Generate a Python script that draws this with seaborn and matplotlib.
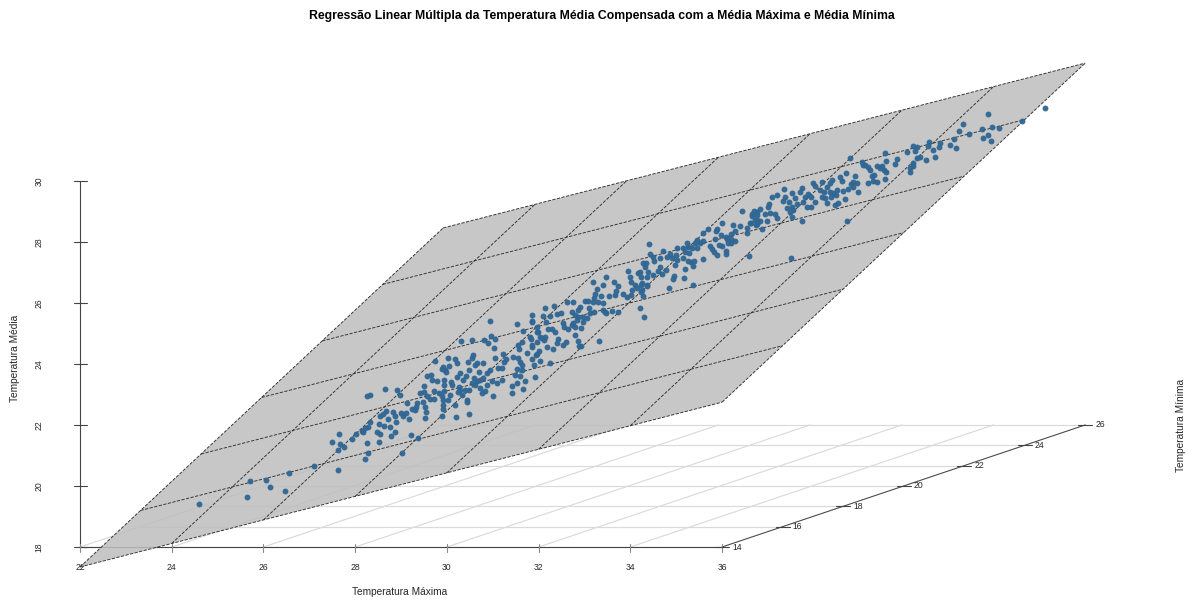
import matplotlib
matplotlib.use("Agg")
import matplotlib.pyplot as plt
import numpy as np
import pandas as pd
import seaborn as sns

titulo = "Regressão Linear Múltipla da Temperatura Média Compensada com a Média Máxima e Média Mínima"
ticks_max = [22, 24, 26, 28, 30, 32, 34, 36]
ticks_min = [14, 16, 18, 20, 22, 24, 26]
ticks_med = [18, 20, 22, 24, 26, 28, 30]

# plane coefficients: média = b0 + b1*máxima + b2*mínima
b0, b1, b2 = 0.55, 0.386, 0.593

# Points, as projected positions on the Máxima / Média scales
max_a = [24.59,25.64,26.14,26.47,25.71,26.06,26.56,27.10,27.50,27.65,27.67,27.63,27.63]
med_a = [19.41,19.64,19.97,19.84,20.16,20.20,20.43,20.66,21.44,21.71,21.38,21.18,20.52]

max_b = [28.65,28.26,28.32,28.91,28.98,29.74,29.56,29.65,29.67,29.78,29.50,29.41,29.50,29.72,29.83,29.56,29.63,29.72,29.13,29.35,
         29.48,29.52,29.24,29.32,29.30,29.54,29.52,28.67,28.82,28.61,28.54,28.87,28.71,29.00,29.11,29.04,29.17,28.89,28.52,28.63,
         28.76,28.32,28.28,28.21,28.15,28.17,28.47,28.54,28.87,28.78,28.52,29.22,29.37,28.02,27.93,27.76,28.26,28.28,29.02,28.21]
med_b = [23.18,22.95,22.98,23.15,22.98,24.10,23.61,23.64,23.48,23.44,23.28,23.05,23.08,23.12,23.05,22.95,22.85,22.85,22.72,22.72,
         22.75,22.59,22.52,22.59,22.49,22.43,22.23,22.46,22.43,22.36,22.30,22.30,22.20,22.39,22.39,22.30,22.20,22.10,22.03,21.97,
         21.93,22.10,21.93,21.90,21.80,21.77,21.77,21.71,21.77,21.64,21.44,21.67,21.57,21.71,21.54,21.28,21.41,21.08,21.08,20.89]

max_c = [30.94,31.53,31.85,31.66,31.96,32.03,30.31,30.55,30.81,30.96,30.89,31.05,31.03,30.57,30.55,30.46,30.02,30.18,30.22,30.04,
         29.91,29.89,29.96,29.98,30.79,30.65,30.61,30.70,30.48,30.28,30.41,30.22,30.35,29.94,29.94,30.09,30.11,30.26,30.28,30.24,
         30.33,30.44,30.44,30.07,30.02,30.18,29.91,29.91,29.94,29.89,29.91,29.89,30.20,30.48,31.00,30.59,30.55,30.39,30.48,30.61,
         30.65,30.72,30.79,30.87,30.94,30.72,30.83,30.76,30.87,30.98,31.09,31.20,31.05,31.22,31.29,31.24,31.11,31.20,31.44,31.55,
         31.64,31.55,31.59,31.64,31.74,31.57,31.81,31.85,31.94,31.85,31.53,31.64,31.48,31.59,31.42,31.53,31.70,31.92,31.42,31.66]
med_c = [25.41,25.31,25.38,25.08,25.05,24.89,24.75,24.79,24.79,24.92,24.69,24.82,24.53,24.30,24.20,24.07,24.20,24.16,24.03,23.93,
         23.90,23.84,23.80,23.74,24.03,24.03,23.97,23.74,23.80,23.71,23.61,23.57,23.48,23.48,23.31,23.41,23.31,23.25,23.15,23.08,
         22.98,22.82,22.75,22.98,22.82,22.66,22.66,22.52,23.12,22.95,22.82,22.30,22.26,22.36,22.95,23.54,23.38,23.15,23.15,23.31,
         23.44,23.48,23.54,23.71,23.80,23.21,23.12,23.05,23.31,23.44,23.38,23.48,24.20,24.33,24.16,24.07,23.87,23.87,24.23,24.62,
         24.72,24.20,24.07,23.97,24.36,24.49,24.89,24.62,24.30,24.16,23.84,23.80,23.64,23.61,23.28,23.38,23.44,23.57,23.05,23.18]

max_d = [33.47,33.18,33.64,33.73,33.69,33.66,33.40,33.27,33.23,33.36,33.53,33.95,33.99,34.16,34.23,34.01,34.10,34.14,34.23,34.36,
         34.03,34.23,33.84,34.01,33.92,34.21,34.30,33.21,33.01,33.07,33.18,33.29,33.40,32.75,32.62,32.90,32.86,32.33,32.14,33.10,
         33.21,33.45,33.60,33.73,33.40,33.47,32.73,32.79,32.86,33.12,32.97,33.05,32.97,32.83,32.75,32.73,32.53,32.55,32.64,32.79,
         32.92,32.49,32.40,32.25,32.09,31.85,31.85,32.16,31.96,31.98,32.20,32.29,32.36,32.14,32.07,31.96,31.83,32.12,32.79,32.86,
         32.88,32.92,32.42,32.40,32.59,32.53,33.31,32.18,32.31,32.01,31.96,31.85,32.03,32.25,31.90]
med_d = [26.85,26.69,26.69,26.56,26.39,26.26,26.59,26.46,26.30,26.23,26.23,27.05,26.85,26.98,26.85,26.69,26.59,26.49,26.59,26.59,
         26.43,26.36,26.30,26.26,26.20,25.84,25.54,26.16,26.07,26.07,26.03,26.03,26.00,26.03,26.03,25.87,25.77,25.90,25.84,25.84,
         25.71,25.71,25.74,25.71,25.77,25.67,25.71,25.61,25.54,25.67,25.54,25.51,25.38,25.44,25.34,25.28,25.34,25.21,25.15,25.21,
         25.18,25.67,25.64,25.57,25.57,25.61,25.41,25.38,25.21,25.05,25.15,25.15,25.05,24.89,24.85,24.72,24.82,24.79,24.95,24.75,
         24.59,24.59,24.82,24.69,24.72,24.62,24.75,24.56,24.49,24.43,24.33,24.56,24.10,24.03,23.97]

max_e = [36.43,36.65,36.76,36.72,36.76,36.61,36.39,36.24,36.00,35.89,35.86,35.69,35.58,35.97,36.19,36.28,36.08,36.54,36.54,35.84,
         36.10,36.19,36.28,36.13,36.19,35.93,36.00,35.58,35.45,35.41,35.23,35.25,35.34,35.45,35.52,35.73,35.78,35.82,35.89,36.08,
         36.08,36.58,35.01,35.15,35.19,35.28,34.40,34.71,34.43,34.49,34.51,34.64,34.80,34.86,34.91,34.99,35.01,35.15,34.97,35.25,
         35.32,35.39,35.36,35.58,35.19,34.27,34.34,34.32,34.38,34.21,34.49,34.60,34.64,34.77,34.69,34.95,34.93,35.17,34.36,34.25,
         34.36,34.25,34.84,35.36,34.27]
med_e = [29.02,28.85,28.98,28.72,28.59,28.62,28.53,28.56,28.62,28.43,28.36,28.43,28.30,28.23,28.26,28.36,28.16,28.46,28.30,28.10,
         28.10,28.10,28.03,27.97,27.97,27.90,27.87,28.03,28.07,27.97,27.97,27.84,27.80,27.80,27.97,27.87,27.77,27.67,27.57,27.71,
         27.61,27.54,27.80,27.80,27.67,27.64,27.94,27.71,27.61,27.51,27.38,27.48,27.51,27.61,27.48,27.57,27.41,27.48,27.25,27.38,
         27.34,27.38,27.21,27.44,27.12,27.31,27.31,27.18,27.02,27.02,26.92,27.05,27.18,27.08,26.95,26.89,26.79,26.82,26.85,26.66,
         26.56,26.43,26.49,26.59,26.23]

max_f = [38.79,39.05,39.11,39.18,38.70,38.90,38.57,38.61,38.85,38.94,38.81,38.85,39.18,38.74,38.63,38.96,38.68,38.50,38.39,38.35,
         38.28,38.18,37.98,38.02,38.13,38.22,38.35,38.42,38.48,38.37,38.24,38.28,38.18,38.02,37.94,37.87,37.94,37.85,37.74,37.70,
         37.52,37.35,37.19,37.09,37.33,37.37,37.59,37.46,37.63,37.52,37.41,37.48,37.76,37.81,37.54,37.52,37.74,38.52,38.46,37.02,
         37.00,36.82,36.69,36.65,36.76,36.93,37.04,37.15,37.19,36.98,36.82,36.76,36.74,36.63,36.87,38.72,37.50]
med_f = [30.75,30.62,30.53,30.46,30.26,30.16,30.13,30.00,29.97,29.94,29.90,29.80,29.94,29.74,29.67,29.64,29.41,29.71,30.03,29.94,
         29.80,29.97,29.94,29.84,29.71,29.64,29.64,29.61,29.54,29.48,29.44,29.28,29.48,29.31,29.48,29.57,29.15,29.15,29.77,29.64,
         29.61,29.74,29.54,29.48,29.34,29.48,29.44,29.31,29.25,29.15,29.12,28.98,29.31,29.48,29.05,28.82,28.69,29.28,29.21,29.25,
         29.15,29.08,29.02,28.92,28.89,28.92,28.95,28.92,28.79,28.69,28.69,28.72,28.56,28.62,28.43,28.69,27.48]

max_g = [43.04,42.54,41.79,41.25,41.16,41.66,41.88,42.03,41.38,41.79,41.69,41.86,41.05,40.51,40.75,40.49,40.73,40.97,41.10,40.16,
         40.25,40.20,40.03,40.60,39.55,40.64,40.44,40.31,40.25,39.81,39.77,39.57,40.16,40.16,40.09,40.09,39.07,39.37,39.48,39.44,
         39.22,39.53,39.57,39.31,39.27,39.55,39.29,39.37]
med_g = [32.39,31.97,32.20,31.87,31.64,31.71,31.77,31.74,31.54,31.51,31.41,31.31,31.38,31.28,31.25,31.15,31.12,31.18,31.08,31.15,
         31.12,30.98,30.95,31.02,30.92,30.79,30.69,30.79,30.75,30.72,30.56,30.66,30.59,30.49,30.43,30.30,30.53,30.49,30.49,30.43,
         30.36,30.36,30.30,30.20,30.16,30.07,30.00,29.97]

grupos = [(max_a, med_a), (max_b, med_b), (max_c, med_c), (max_d, med_d),
          (max_e, med_e), (max_f, med_f), (max_g, med_g)]
pontos = pd.concat([pd.DataFrame({"maxima": a, "media": b}) for a, b in grupos], ignore_index=True)

sns.set_style("white")
plt.rcParams["font.family"] = ["Liberation Sans", "DejaVu Sans"]

W, H = 1188, 601
fig = plt.figure(figsize=(W / 100, H / 100), dpi=100)
ax = fig.add_axes([0, 0, 1, 1])
PX_X, PX_Z = 45.86, 30.5
ax.set_xlim(22 - 80 / PX_X, 22 + (W - 80) / PX_X)
ax.set_ylim(18 - (H - 547) / PX_Z, 18 + 547 / PX_Z)
ax.axis("off")

# oblique projection of the Mínima axis
DX, DZ = 0.66, 0.3335
def proj(maxima, minima, media):
    return (np.asarray(maxima, float) + DX * (np.asarray(minima, float) - 14),
            np.asarray(media, float) + DZ * (np.asarray(minima, float) - 14))
def plano(maxima, minima):
    return b0 + b1 * np.asarray(maxima, float) + b2 * np.asarray(minima, float)

xa, xb = ticks_max[0], ticks_max[-1]
ya, yb = ticks_min[0], ticks_min[-1]
za, zb = ticks_med[0], ticks_med[-1]
GRID = "#dadada"
DARK = "#444444"
TICK_TXT = "#262626"

# floor grid
for m in ticks_min:
    px, pz = proj([xa, xb], [m, m], [za, za])
    ax.plot(px, pz, color=GRID, lw=0.85, zorder=1)
for m in ticks_max:
    px, pz = proj([m, m], [ya, yb], [za, za])
    ax.plot(px, pz, color=GRID, lw=0.85, zorder=1)

# axes
ax.plot([xa, xa], [za, zb], color=DARK, lw=0.8, zorder=2)
ax.plot([xa, xb], [za, za], color=DARK, lw=0.8, zorder=2)
px, pz = proj([xb, xb], [ya, yb], [za, za])
ax.plot(px, pz, color=DARK, lw=0.7, zorder=2)
for t in ticks_med:
    ax.plot([xa - 6 / PX_X, xa + 7 / PX_X], [t, t], color=DARK, lw=0.8, zorder=2)
    ax.text(xa - 41 / PX_X, t, str(t), rotation=90, ha="center", va="center", fontsize=6.2, color=TICK_TXT)
for t in ticks_max:
    ax.plot([t, t], [za - 5 / PX_Z, za + 3 / PX_Z], color="#8a8a8a", lw=0.8, zorder=2)
    ax.text(t, za - 20.5 / PX_Z, str(t), ha="center", va="center", fontsize=6.2, color=TICK_TXT)
for t in ticks_min:
    px, pz = proj([xb], [t], [za])
    ax.plot([px[0] - 7 / PX_X, px[0] + 7 / PX_X], [pz[0], pz[0]], color=DARK, lw=0.8, zorder=2)
    ax.text(px[0] + 15 / PX_X, pz[0], str(t), ha="center", va="center", fontsize=6.2, color=TICK_TXT)

# regression plane
cx, cz = proj([xa, xb, xb, xa], [ya, ya, yb, yb], plano([xa, xb, xb, xa], [ya, ya, yb, yb]))
ax.fill(cx, cz, facecolor="#bebebe", alpha=0.86, edgecolor="none", zorder=3)
DASH = dict(color="#2e2e2e", lw=0.65, dashes=(3.6, 1.6), zorder=4)
for m in ticks_max:
    px, pz = proj([m, m], [ya, yb], plano([m, m], [ya, yb]))
    ax.plot(px, pz, **DASH)
for m in ticks_min:
    px, pz = proj([xa, xb], [m, m], plano([xa, xb], [m, m]))
    ax.plot(px, pz, **DASH)

# observations
sns.scatterplot(data=pontos, x="maxima", y="media", ax=ax, color="#2f6694", s=18,
                linewidth=0, alpha=0.95, zorder=5, legend=False)
ax.axis("off")

fig.text(602 / W, 1 - 16 / H, titulo, ha="center", va="center", fontsize=8.85, fontweight="bold", color="black")
fig.text(400 / W, 1 - 592 / H, "Temperatura Máxima", ha="center", va="center", fontsize=7.25, color="#262626")
fig.text(15 / W, 1 - 358 / H, "Temperatura Média", rotation=90, ha="center", va="center", fontsize=7.25, color="#262626")
fig.text(1181 / W, 1 - 425 / H, "Temperatura Mínima", rotation=90, ha="center", va="center", fontsize=7.25, color="#262626")

fig.savefig("out.png", dpi=100, facecolor="white")
